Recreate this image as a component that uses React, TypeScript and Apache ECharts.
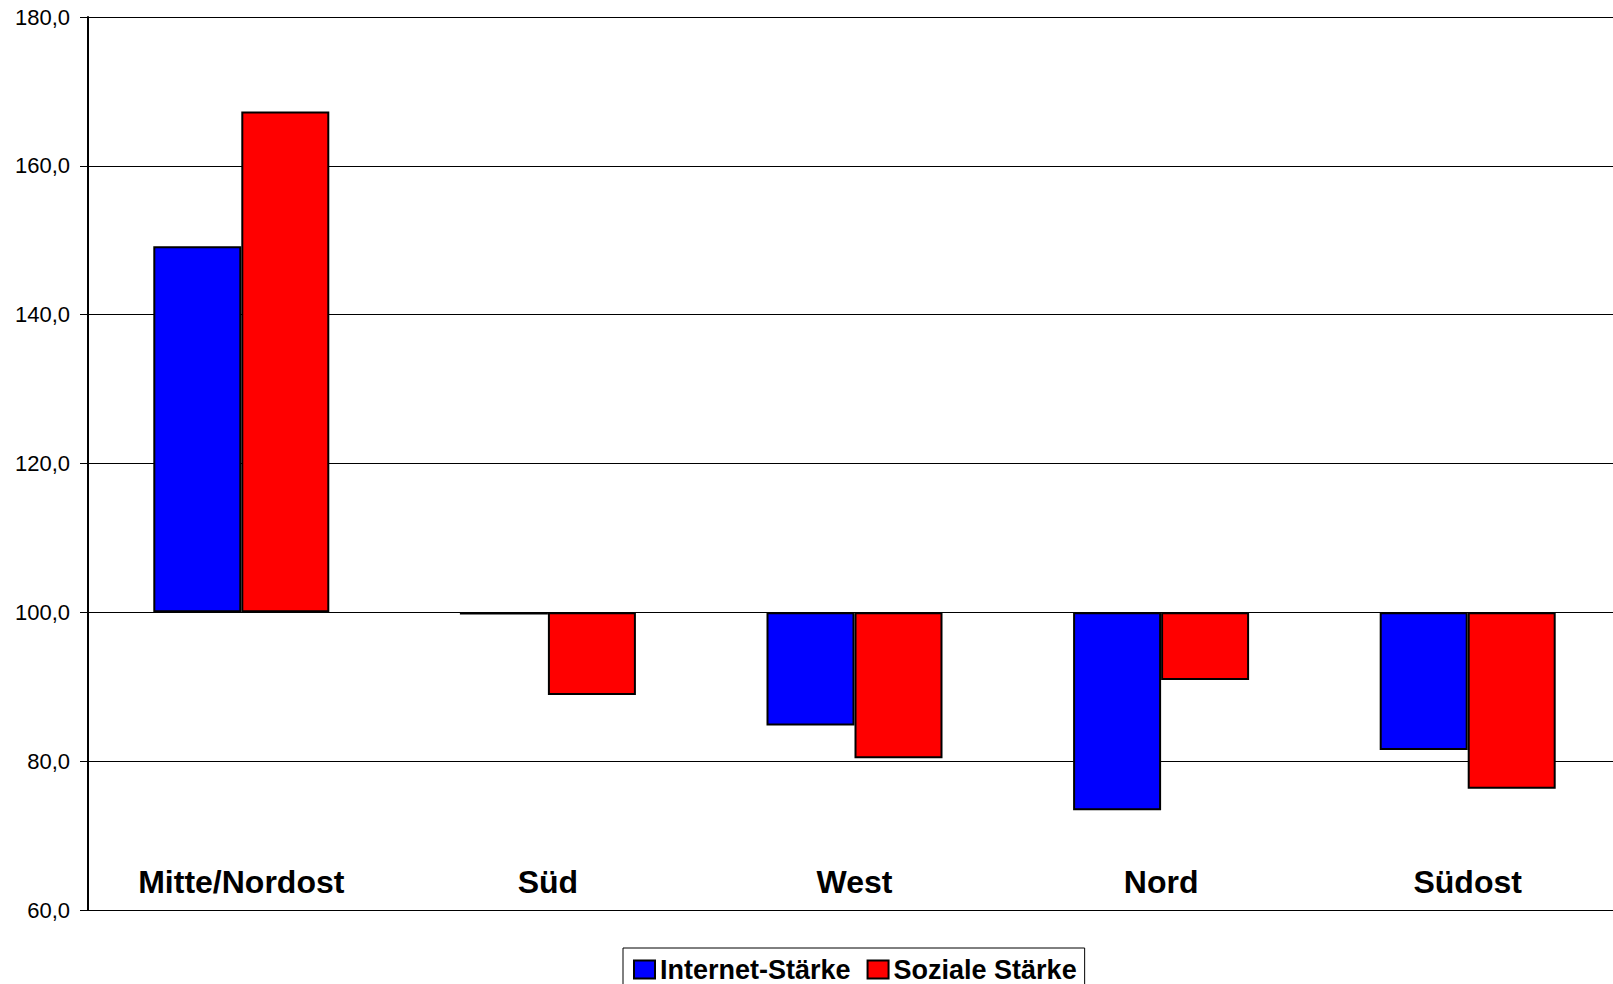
import React, { useEffect, useRef } from "react";
import * as echarts from "echarts";

const categories = ["Mitte/Nordost", "Süd", "West", "Nord", "Südost"];
const internetStaerke = [149.2, 99.7, 84.8, 73.4, 81.5];
const sozialeStaerke = [167.3, 88.9, 80.4, 90.9, 76.3];
const seriesNames = ["Internet-Stärke", "Soziale Stärke"];
const BASE = 100;
const yMin = 60;
const yMax = 180;
const yStep = 20;

const FONT = "'Liberation Sans', Arial, Helvetica, sans-serif";

export default function App() {
  const ref = useRef<HTMLDivElement>(null);

  useEffect(() => {
    document.body.style.margin = "0";
    document.body.style.overflow = "hidden";
    if (!ref.current) return;
    const chart = echarts.init(ref.current, undefined, { renderer: "svg" });
    const fmt = (v: number) => (v + BASE).toFixed(1).replace(".", ",");
    chart.setOption({
      animation: false,
      backgroundColor: "#ffffff",
      textStyle: { fontFamily: FONT },
      grid: { left: 88, right: 0, top: 17, bottom: 74, containLabel: false },
      legend: {
        data: seriesNames,
        left: 623,
        top: 948,
        orient: "horizontal",
        itemWidth: 21,
        itemHeight: 18,
        itemGap: 16,
        padding: [8, 8, 12, 10],
        borderColor: "#000",
        borderWidth: 1,
        borderRadius: 0,
        backgroundColor: "#fff",
        icon: "rect",
        selectedMode: false,
        textStyle: { fontFamily: FONT, fontSize: 27, fontWeight: "bold", color: "#000" },
      },
      xAxis: {
        type: "category",
        data: categories,
        axisLine: { show: true, lineStyle: { color: "#000", width: 1 } },
        axisTick: { show: false },
        axisLabel: {
          fontFamily: FONT,
          fontSize: 32,
          fontWeight: "bold",
          color: "#000",
          margin: -28,
          verticalAlign: "middle",
          interval: 0,
        },
        splitLine: { show: false },
      },
      yAxis: {
        type: "value",
        min: yMin - BASE,
        max: yMax - BASE,
        interval: yStep,
        axisLine: { show: true, lineStyle: { color: "#000", width: 2 } },
        axisTick: { show: true, length: 8, lineStyle: { color: "#000", width: 1 } },
        axisLabel: {
          fontFamily: FONT,
          fontSize: 22,
          color: "#000",
          margin: 18,
          formatter: fmt,
        },
        splitLine: { show: true, lineStyle: { color: "#000", width: 1 } },
      },
      series: [
        {
          name: seriesNames[0],
          type: "bar",
          data: internetStaerke.map((v) => +(v - BASE).toFixed(2)),
          barWidth: 88,
          barGap: "0%",
          itemStyle: { color: "#0000ff", borderColor: "#000", borderWidth: 2 },
        },
        {
          name: seriesNames[1],
          type: "bar",
          data: sozialeStaerke.map((v) => +(v - BASE).toFixed(2)),
          barWidth: 88,
          barGap: "0%",
          itemStyle: { color: "#ff0000", borderColor: "#000", borderWidth: 2 },
        },
      ],
    });
    return () => chart.dispose();
  }, []);

  return (
    <div style={{ width: 1613, height: 984, overflow: "hidden" }}>
      <div ref={ref} style={{ width: 1621, height: 984 }} />
    </div>
  );
}
